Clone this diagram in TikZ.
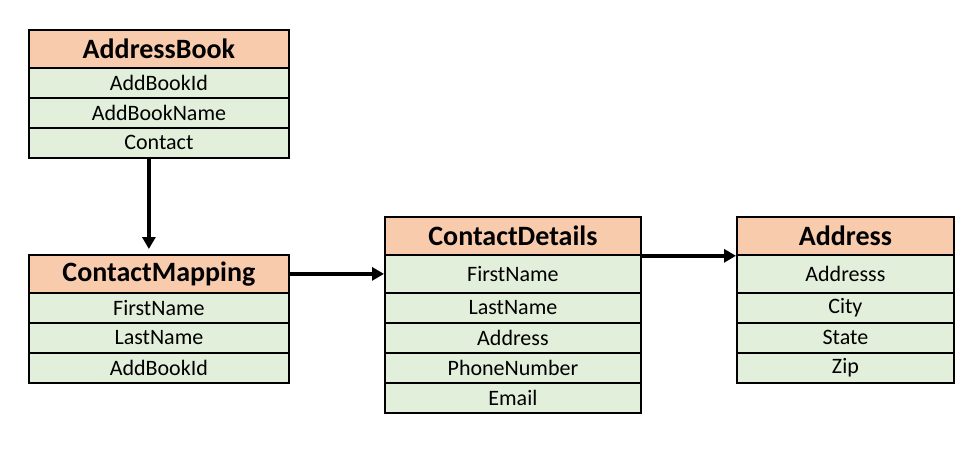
\documentclass[tikz,border=0pt]{standalone}
\usepackage{fontspec}
\setmainfont{Carlito}
\usetikzlibrary{arrows.meta}
\definecolor{hdrfill}{HTML}{F8CBAD}
\definecolor{rowfill}{HTML}{E2EFDA}
\tikzset{
  cell/.style={draw=black, line width=1.8pt, inner sep=0pt, anchor=north west, fill=rowfill, font=\fontsize{22}{25}\selectfont},
  hdr/.style={cell, fill=hdrfill, font=\fontsize{28}{31}\selectfont\bfseries},
  arr/.style={line width=4.4pt, -{Triangle[length=12pt,width=13pt]}}
}
\begin{document}
\begin{tikzpicture}[x=1pt,y=-1pt]
\useasboundingbox (0,0) rectangle (973,457);
% AddressBook
\node[hdr, minimum width=260pt, minimum height=38pt] (abh) at (28,29) {AddressBook};
\node[cell, minimum width=260pt, minimum height=30pt] (ab1) at (28,67) {AddBookId};
\node[cell, minimum width=260pt, minimum height=30pt] (ab2) at (28,97) {AddBookName};
\node[cell, minimum width=260pt, minimum height=30pt] (ab3) at (28,127) {Contact};
% ContactMapping
\node[hdr, minimum width=260pt, minimum height=38pt] (cmh) at (28,254) {ContactMapping};
\node[cell, minimum width=260pt, minimum height=30pt] (cm1) at (28,292) {FirstName};
\node[cell, minimum width=260pt, minimum height=30pt] (cm2) at (28,322) {LastName};
\node[cell, minimum width=260pt, minimum height=30pt] (cm3) at (28,352) {AddBookId};
% ContactDetails
\node[hdr, minimum width=256pt, minimum height=38pt] (cdh) at (384,216) {ContactDetails};
\node[cell, minimum width=256pt, minimum height=38pt] (cd1) at (384,254) {FirstName};
\node[cell, minimum width=256pt, minimum height=30pt] (cd2) at (384,292) {LastName};
\node[cell, minimum width=256pt, minimum height=30pt] (cd3) at (384,322) {Address};
\node[cell, minimum width=256pt, minimum height=30pt] (cd4) at (384,352) {PhoneNumber};
\node[cell, minimum width=256pt, minimum height=30pt] (cd5) at (384,382) {Email};
% Address
\node[hdr, minimum width=217pt, minimum height=38pt] (adh) at (736,216) {Address};
\node[cell, minimum width=217pt, minimum height=38pt] (ad1) at (736,254) {Addresss};
\node[cell, minimum width=217pt, minimum height=30pt] (ad2) at (736,292) {City};
\node[cell, minimum width=217pt, minimum height=30pt] (ad3) at (736,322) {State};
\node[cell, minimum width=217pt, minimum height=30pt] (ad4) at (736,352) {Zip};
% connectors
\draw[arr, shorten >=5pt] ([xshift=-10pt]ab3.south) -- ([xshift=-10pt]cmh.north);
\draw[arr] (cmh.east) -- (cmh.east -| cd1.west);
\draw[arr] (cdh.south east) -- (adh.south west);
\end{tikzpicture}
\end{document}
